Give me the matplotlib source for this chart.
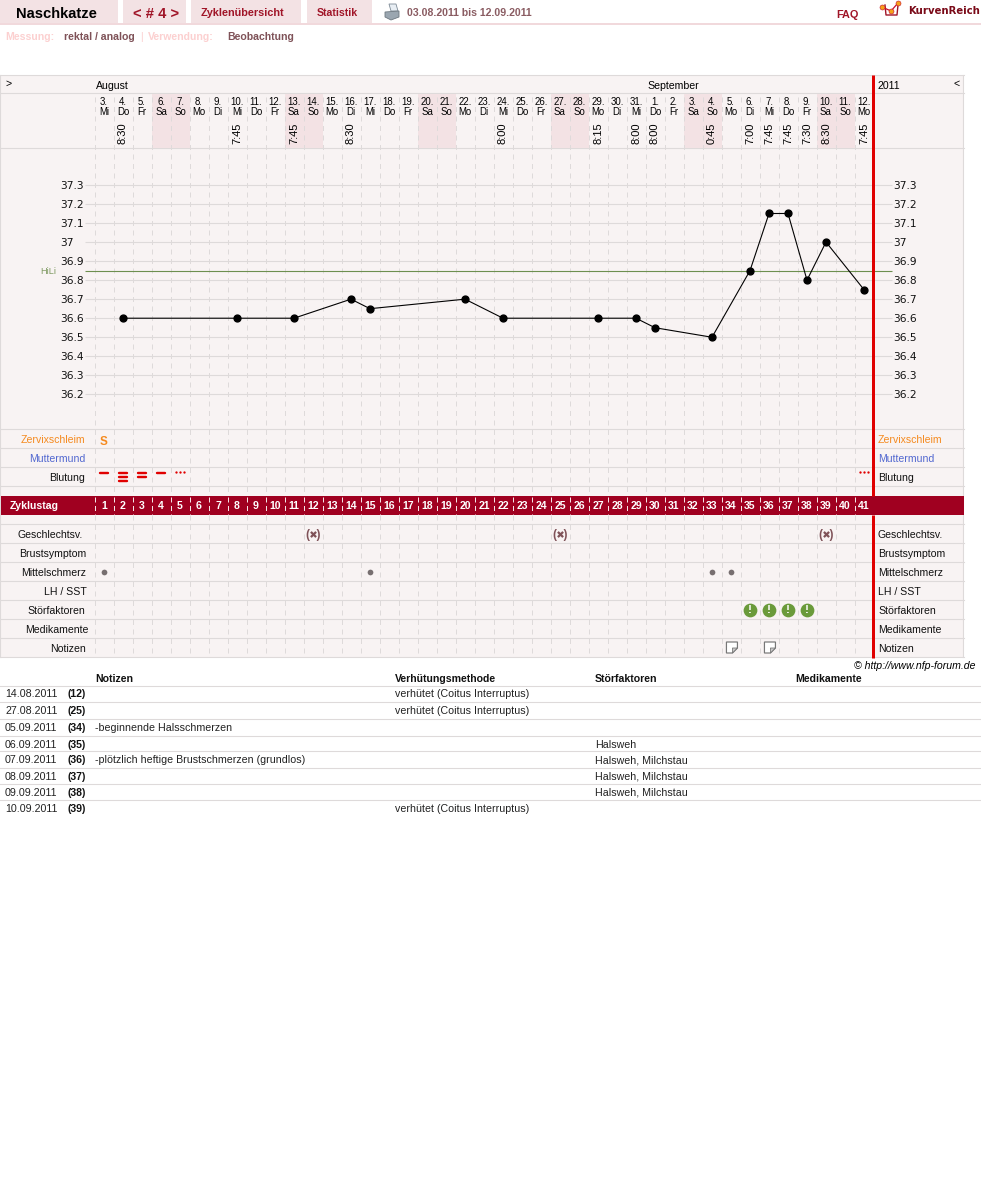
"""Recreate the KurvenReich cycle chart (fig laid out in screen pixels)."""
import matplotlib
matplotlib.use("Agg")
import matplotlib.pyplot as plt
from matplotlib.patches import Polygon, Rectangle

plt.rcParams["font.family"] = ["Liberation Sans", "DejaVu Sans"]
plt.rcParams["lines.scale_dashes"] = False

W, H = 981, 1177
PX = 0.72  # one pixel in points at dpi 100

# --- data ------------------------------------------------------------------
day_numbers = [3, 4, 5, 6, 7, 8, 9, 10, 11, 12, 13, 14, 15, 16, 17, 18, 19, 20, 21,
               22, 23, 24, 25, 26, 27, 28, 29, 30, 31, 1, 2, 3, 4, 5, 6, 7, 8, 9, 10, 11, 12]
weekdays = ["Mi", "Do", "Fr", "Sa", "So", "Mo", "Di", "Mi", "Do", "Fr", "Sa", "So", "Mo", "Di",
            "Mi", "Do", "Fr", "Sa", "So", "Mo", "Di", "Mi", "Do", "Fr", "Sa", "So", "Mo", "Di",
            "Mi", "Do", "Fr", "Sa", "So", "Mo", "Di", "Mi", "Do", "Fr", "Sa", "So", "Mo"]
cycle_days = list(range(1, 42))
time_days = [2, 8, 11, 14, 22, 27, 29, 30, 33, 35, 36, 37, 38, 39, 41]
time_labels = ["8:30", "7:45", "7:45", "8:30", "8:00", "8:15", "8:00", "8:00", "0:45",
               "7:00", "7:45", "7:45", "7:30", "8:30", "7:45"]
temp_days = [2, 8, 11, 14, 15, 20, 22, 27, 29, 30, 33, 35, 36, 37, 38, 39, 41]
temps = [36.6, 36.6, 36.6, 36.7, 36.65, 36.7, 36.6, 36.6, 36.6, 36.55, 36.5,
         36.85, 37.15, 37.15, 36.8, 37.0, 36.75]
temp_ticks = [37.3, 37.2, 37.1, 37.0, 36.9, 36.8, 36.7, 36.6, 36.5, 36.4, 36.3, 36.2]
temp_tick_labels = ["37.3", "37.2", "37.1", "37", "36.9", "36.8", "36.7", "36.6",
                    "36.5", "36.4", "36.3", "36.2"]
hili = 36.85
bleed_days = [1, 2, 3, 4]
bleed_bars = [1, 3, 2, 1]
spot_days = [5, 41]
intercourse_days = [12, 25, 39]
pain_days = [1, 15, 33, 34]
factor_days = [35, 36, 37, 38]
note_days = [34, 36]
row_labels = ["Zervixschleim", "Muttermund", "Blutung"]
row_labels2 = ["Geschlechtsv.", "Brustsymptom", "Mittelschmerz", "LH / SST",
               "Störfaktoren", "Medikamente", "Notizen"]
coitus = "verhütet (Coitus Interruptus)"
table_head = ["Notizen", "Verhütungsmethode", "Störfaktoren", "Medikamente"]
table_dates = ["14.08.2011", "27.08.2011", "05.09.2011", "06.09.2011", "07.09.2011",
               "08.09.2011", "09.09.2011", "10.09.2011"]
table_cycle = ["(12)", "(25)", "(34)", "(35)", "(36)", "(37)", "(38)", "(39)"]
table_notes = ["", "", "-beginnende Halsschmerzen", "",
               "-plötzlich heftige Brustschmerzen (grundlos)", "", "", ""]
table_method = [coitus, coitus, "", "", "", "", "", coitus]
table_factors = ["", "", "", "Halsweh", "Halsweh, Milchstau", "Halsweh, Milchstau",
                 "Halsweh, Milchstau", ""]

# --- colours ---------------------------------------------------------------
BG = "#f8f3f3"
PINK = "#f3e2e4"
GRID = "#dedada"
DARK = "#a00020"
RED = "#e00000"
TAB_TEXT = "#a01528"
BROWN = "#7f5258"
ORANGE = "#f58a1f"
BLUE = "#5268d0"
GREEN = "#6a9a3a"

fig = plt.figure(figsize=(W / 100, H / 100), dpi=100, facecolor="white")

# base axes in screen pixels
px = fig.add_axes([0, 0, 1, 1], zorder=1)
px.set_xlim(0, W)
px.set_ylim(H, 0)
px.axis("off")

# cycle-day axes: x is the cycle day, y stays in screen pixels
days = fig.add_axes([94.5 / W, 0, 779 / W, 1], zorder=2)
days.set_xlim(0.5, 41.5)
days.set_ylim(H, 0)
days.axis("off")

# temperature axes for the curve area
tmp = fig.add_axes([94.5 / W, 1 - 429.3 / H, 779 / W, 281.3 / H], zorder=3)
tmp.set_xlim(0.5, 41.5)
tmp.set_ylim(36.0165, 37.494)
tmp.axis("off")


def txt(ax, x, y, s, size=7.6, color="black", ha="left", **kw):
    # y is the middle of the capitals, so rows line up whatever the glyphs
    return ax.text(x, y + 0.5 * size, s, fontsize=size, color=color, ha=ha, va="baseline", **kw)


# --- top navigation --------------------------------------------------------
for x0, x1 in [(0, 118), (123, 186), (191, 301), (307, 372)]:
    px.add_patch(Rectangle((x0, 0), x1 - x0, 23, fc=PINK, ec="none"))
px.add_patch(Rectangle((0, 23), W, 2, fc="#f1d9dc", ec="none"))
txt(px, 16, 13, "Naschkatze", 10.6, "black", weight="bold")
txt(px, 133, 13, "< # 4 >", 10.6, TAB_TEXT, weight="bold")
txt(px, 201, 12.5, "Zyklenübersicht", 7.8, TAB_TEXT, weight="bold")
txt(px, 317, 12.5, "Statistik", 7.6, TAB_TEXT, weight="bold")
txt(px, 407, 12.5, "03.08.2011 bis 12.09.2011", 7.6, "#8a5c62", weight="bold")
txt(px, 836, 14, "FAQ", 7.8, TAB_TEXT, weight="bold")
txt(px, 908, 10.5, "KurvenReich", 7.3, "#7a0a18", weight="bold", family="DejaVu Sans")
txt(px, 5, 36, "Messung:", 7.6, "#fcd0d0", weight="bold")
txt(px, 64, 36, "rektal / analog", 7.6, BROWN, weight="bold")
txt(px, 140, 36, "|", 7.6, "#fcd0d0")
txt(px, 148, 36, "Verwendung:", 7.6, "#fcd0d0", weight="bold")
txt(px, 227, 36, "Beobachtung", 7.6, BROWN, weight="bold")

# printer icon
px.add_patch(Polygon([(389, 4), (396, 4), (398, 11), (391, 11)], fc="#e8eef4", ec="#7d8a96", lw=0.6))
px.add_patch(Polygon([(385, 12), (399, 11), (399, 17), (391, 20), (385, 17)], fc="#9aa6b0", ec="#6d7880", lw=0.6))

# logo
px.plot([885, 886, 897, 898], [5, 15, 15, 5], color="#a01528", lw=1.0)
px.plot([882, 891, 898], [7, 11, 3], color="#c8102e", lw=0.9)
px.scatter([882, 891, 898], [7, 11, 3], s=13, color="#f5a21a", edgecolor="#c8102e", linewidth=0.4, zorder=3)

# --- chart frame -----------------------------------------------------------
px.add_patch(Rectangle((0, 75), 963, 582, fc=BG, ec="none"))
for y in [75, 93, 148, 429, 448, 467, 486, 524, 543, 562, 581, 600, 619, 638, 657]:
    px.plot([0, 963.5], [y, y], color=GRID, lw=PX * 1.1)
for x in [0, 963]:
    px.plot([x, x], [75, 657], color=GRID, lw=PX * 1.1)

# weekend shading in the date row
for d, wd in zip(cycle_days, weekdays):
    if wd in ("Sa", "So"):
        days.add_patch(Rectangle((d - 0.5, 93.5), 1, 54, fc=PINK, ec="none"))

# dashed day separators
days.vlines([d - 0.5 for d in cycle_days], 97, 657, color=GRID, lw=PX,
            linestyle=(0, (5 * PX, 4.5 * PX)))

# cycle day band
days.add_patch(Rectangle((1, 496), 962.5, 19, fc=DARK, ec="none", transform=px.transData,
                         zorder=3, clip_on=False))
days.vlines([d - 0.5 for d in cycle_days], 497, 515, color="#f4e4e6", lw=PX, zorder=4,
            linestyle=(0, (5 * PX, 3.5 * PX)))
days.text(10, 509.3, "Zyklustag", fontsize=7.6, color="white", weight="bold", va="baseline",
          transform=px.transData, clip_on=False, zorder=5)
for d in cycle_days:
    txt(days, d, 505, str(d), 7.6, "white", ha="center", weight="bold", zorder=5)

# header texts
txt(px, 5, 83, ">", 7.6)
txt(px, 96, 85, "August", 7.6)
txt(px, 647, 85, "September", 7.6)
txt(px, 878, 85, "2011", 7.6)
txt(px, 953, 83, "<", 7.6)
for d, num, wd in zip(cycle_days, day_numbers, weekdays):
    txt(days, d, 101.5, f"{num}.", 6.9, ha="center")
    txt(days, d, 111.5, wd, 6.9, ha="center")
for d, t in zip(time_days, time_labels):
    days.text(d, 144.5, t, fontsize=8.0, rotation=90, ha="center", va="bottom")

# --- temperature curve -----------------------------------------------------
tmp.hlines(temp_ticks, 0.0, 42.47, color=GRID, lw=PX * 1.1, clip_on=False)
tmp.hlines([hili], 0.0, 42.47, color="#6d8f4f", lw=PX * 1.1, clip_on=False, zorder=2)
tmp.plot(temp_days, temps, color="black", lw=PX * 1.1, marker="o", ms=7 * PX * 0.98, zorder=4)
for t, lab in zip(temp_ticks, temp_tick_labels):
    y = 185 + (37.3 - t) * 190.4
    txt(px, 60, y, lab, 7.7, "#111111", family="DejaVu Sans")
    txt(px, 893, y, lab, 7.7, "#111111", family="DejaVu Sans")
txt(px, 40, 270.5, "HiLi", 6.6, "#7f9a62")

# red divider, above the grid lines but interrupted by the band
for y0, y1 in [(75, 496), (515, 657.5)]:
    tmp.plot([873.3, 873.3], [y0, y1], color=RED, lw=PX * 3, transform=px.transData,
             clip_on=False, zorder=6, solid_capstyle="butt")

# --- symptom rows ----------------------------------------------------------
row_colors = [ORANGE, BLUE, "#111111"]
for lab, y, c, r in zip(row_labels, [439, 458, 477], row_colors, [85, 85, 85]):
    txt(px, r, y, lab, 7.6, c, ha="right")
    txt(px, 878, y, lab, 7.6, c)
for lab, y, r in zip(row_labels2, [534, 553, 572, 591, 610, 629, 648], [83, 86, 86, 87, 85, 89, 86]):
    txt(px, r, y, lab, 7.6, "#111111", ha="right")
    txt(px, 878, y, lab, 7.6, "#111111")

# Zervixschleim
txt(days, 1, 441, "S", 8.4, ORANGE, ha="center", weight="bold")

# Blutung
for d, n in zip(bleed_days, bleed_bars):
    for i in range(n):
        y = 472.5 + i * 4.0
        days.plot([d - 0.22, d + 0.22], [y, y], color=RED, lw=2.4 * PX, solid_capstyle="round")
for d in spot_days:
    days.scatter([d - 0.2, d, d + 0.2], [472, 472, 472], s=2.8, color=RED, linewidth=0)

# Geschlechtsverkehr
for d in intercourse_days:
    txt(days, d, 533.5, "(  )", 8.4, BROWN, ha="center", weight="bold")
    days.scatter([d], [533.5], marker="x", s=14, color=BROWN, linewidth=1.6)

# Mittelschmerz
days.scatter(pain_days, [571.5] * len(pain_days), s=17, color="#776f70", linewidth=0)

# Stoerfaktoren
for d in factor_days:
    days.scatter([d], [609.5], s=98, color=GREEN, linewidth=0, zorder=3)
    txt(days, d, 609, "!", 8.2, "white", ha="center", weight="bold", zorder=4)

# Notizen icons: a small page with a folded corner
for d in note_days:
    L = (d - 0.5 + 0.26)
    R = L + 11 / 19
    F = R - 5 / 19
    days.add_patch(Polygon([(L, 642), (R, 642), (R, 648), (F, 653), (L, 653)], closed=True,
                           fc="white", ec="#777777", lw=PX * 1.2))
    days.add_patch(Polygon([(F, 648), (R, 648), (F, 653)], closed=True, fc="#c8c8c8", ec="#777777", lw=PX * 0.8))

# --- notes table -----------------------------------------------------------
px.text(976, 669, "© http://www.nfp-forum.de", fontsize=7.6, style="italic", ha="right", va="baseline")
for x, lab in zip([95, 395, 595, 795], table_head):
    txt(px, x, 678, lab, 7.6, "#111111", weight="bold")
row_lines = [685.6, 702.3, 719.3, 736.3, 751.3, 768.3, 784.3, 800.3]
row_text = [693.5, 710, 727, 744, 759.5, 776, 792, 808]
for y in row_lines:
    px.plot([0, W], [y, y], color=GRID, lw=PX * 1.1)
for y, a, b, c, e, f in zip(row_text, table_dates, table_cycle, table_notes, table_method, table_factors):
    txt(px, 5, y, a, 7.7, "#222222")
    txt(px, 68, y, b, 7.6, "#111111", weight="bold")
    txt(px, 95, y, c, 7.7, "#222222")
    txt(px, 395, y, e, 7.7, "#222222")
    txt(px, 595, y, f, 7.7, "#222222")

fig.savefig("out.png", dpi=100)
